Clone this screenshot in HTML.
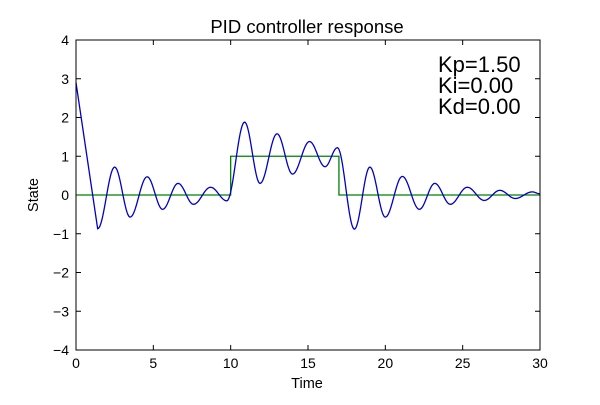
<!DOCTYPE html>
<html><head><meta charset="utf-8"><style>
body{margin:0;background:#fff}
svg{font-family:"Liberation Sans",sans-serif}
</style></head><body>
<svg width="600" height="400" xmlns="http://www.w3.org/2000/svg">
<rect width="600" height="400" fill="#fff"/>
<text x="307" y="33" font-size="18.5" text-anchor="middle">PID controller response</text>
<g id="axes"></g>
<g id="series"></g>
<rect x="76" y="40" width="464" height="310" fill="none" stroke="#000" stroke-width="1"/>
<text x="307" y="388" font-size="14.5" text-anchor="middle">Time</text>
<text x="38" y="195" font-size="14.5" text-anchor="middle" transform="rotate(-90 38 195)">State</text>
<g font-size="22">
<text x="438" y="72">Kp=1.50</text>
<text x="438" y="93">Ki=0.00</text>
<text x="438" y="114">Kd=0.00</text>
</g>
</svg>
<script>
const xTicks=[0,5,10,15,20,25,30];
const yTicks=[-4,-3,-2,-1,0,1,2,3,4];
const stepTimes=[0,10,10,17,17,30];
const stepValues=[0,0,1,1,0,0];
const respTimes=[0,1.4,2.5,3.5,4.6,5.6,6.6,7.6,8.7,9.75,10.9,11.9,13.0,14.0,15.1,16.1,16.9,18.0,19.0,20.0,21.1,22.2,23.2,24.2,25.3,26.4,27.4,28.4,29.5,30];
const respValues=[2.9,-0.87,0.72,-0.57,0.47,-0.37,0.30,-0.24,0.20,-0.15,1.88,0.30,1.58,0.54,1.38,0.73,1.22,-0.88,0.72,-0.57,0.48,-0.37,0.30,-0.24,0.20,-0.14,0.12,-0.09,0.08,0.03];
const X=t=>76+(t-0)/30*464, Y=v=>195-v*38.75;
const NS="http://www.w3.org/2000/svg";
const ax=document.getElementById('axes'), se=document.getElementById('series');
function mk(tag,attrs,parent){const e=document.createElementNS(NS,tag);for(const k in attrs)e.setAttribute(k,attrs[k]);parent.appendChild(e);return e;}
xTicks.forEach(t=>{
 const g=mk('g',{},ax);
 
 
 mk('line',{x1:X(t),x2:X(t),y1:350,y2:345,stroke:'#000'},g);
 mk('line',{x1:X(t),x2:X(t),y1:40,y2:45,stroke:'#000'},g);
 const tx=mk('text',{x:X(t),y:368,'font-size':14,'text-anchor':'middle'},g);tx.textContent=t;
});
yTicks.forEach(v=>{
 const g=mk('g',{},ax);
 
 
 mk('line',{x1:76,x2:81,y1:Y(v),y2:Y(v),stroke:'#000'},g);
 mk('line',{x1:540,x2:535,y1:Y(v),y2:Y(v),stroke:'#000'},g);
 const tx=mk('text',{x:69,y:Y(v)+5,'font-size':14,'text-anchor':'end'},g);tx.textContent=(v<0?'\u2212':'')+Math.abs(v);
});
let d='';stepTimes.forEach((t,i)=>{d+=(i?'L':'M')+X(t)+' '+Y(stepValues[i]);});
const sp=mk('path',{d:d,fill:'none',stroke:'#008000','stroke-width':1.3},se);


let r='M'+X(respTimes[0])+' '+Y(respValues[0]);
for(let i=1;i<respTimes.length;i++){
 const t0=respTimes[i-1],t1=respTimes[i],v0=respValues[i-1],v1=respValues[i];
 for(let k=1;k<=20;k++){const f=k/20;const w=i==1?f:(1-Math.cos(Math.PI*f))/2;r+='L'+X(t0+(t1-t0)*f).toFixed(2)+' '+Y(v0+(v1-v0)*w).toFixed(2);}
}
const rp=mk('path',{d:r,fill:'none',stroke:'#0000cc','stroke-width':1.3},se);


</script>
</body></html>
